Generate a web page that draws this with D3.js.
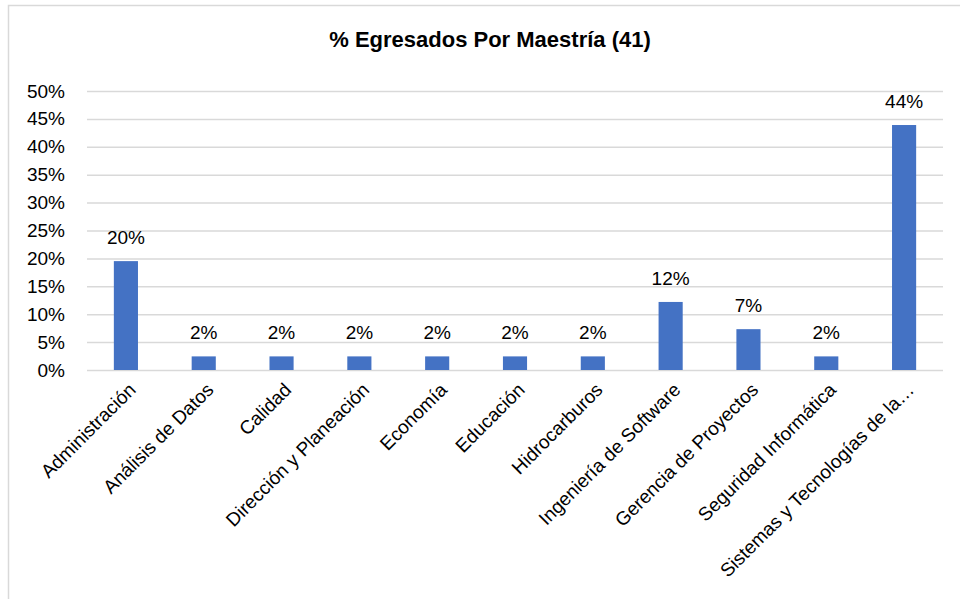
<!DOCTYPE html>
<html><head><meta charset="utf-8">
<script src="https://cdn.jsdelivr.net/npm/d3@7"></script>
<style>body{margin:0;background:#fff}svg{display:block}text{font-family:"Liberation Sans",Arial,sans-serif;fill:#000}</style>
</head><body><svg id="c" width="960" height="599"></svg>
<script>
const categories = ["Administración","Análisis de Datos","Calidad","Dirección y Planeación","Economía","Educación","Hidrocarburos","Ingeniería de Software","Gerencia de Proyectos","Seguridad Informática","Sistemas y Tecnologías de la…"];
const counts = [8,1,1,1,1,1,1,5,3,1,18];
const total = 41;
const values = counts.map(c => c / total * 100);
const yTicks = [0,5,10,15,20,25,30,35,40,45,50];
const title = "% Egresados Por Maestría (41)";

const svg = d3.select("#c");
svg.append("rect").attr("x",8.5).attr("y",5.5).attr("width",960).attr("height",600)
  .attr("fill","#fff").attr("stroke","#d9d9d9").attr("stroke-width",1.5);

const m = {l:87, r:943, t:91, b:370};
const x = d3.scaleBand().domain(categories).range([m.l, m.r]).paddingInner(0.69).paddingOuter(0.345);
const y = d3.scaleLinear().domain([0,50]).range([m.b, m.t]);

svg.append("text").attr("x",490).attr("y",47).attr("text-anchor","middle")
  .attr("font-size",22).attr("font-weight","bold").text(title);

const ya = svg.append("g").attr("transform",`translate(${m.l},0)`)
  .call(d3.axisLeft(y).tickValues(yTicks).tickSize(-(m.r-m.l)).tickPadding(22).tickFormat(d => d + "%"));
ya.select(".domain").remove();
ya.selectAll(".tick line").attr("stroke","#d9d9d9").attr("stroke-width",1.5);
ya.selectAll(".tick text").attr("font-size",19).attr("fill","#000");

svg.append("g").selectAll("rect").data(values).join("rect")
  .attr("x",(d,i)=>x(categories[i])).attr("width",x.bandwidth())
  .attr("y",d=>y(d)).attr("height",d=>y(0)-y(d)).attr("fill","#4472c4");

svg.append("g").selectAll("text").data(values).join("text")
  .attr("x",(d,i)=>x(categories[i])+x.bandwidth()/2).attr("y",d=>y(d)-17)
  .attr("text-anchor","middle").attr("font-size",19).text(d=>Math.round(d)+"%");

const xa = svg.append("g").attr("transform",`translate(0,${m.b})`)
  .call(d3.axisBottom(x).tickSize(0).tickPadding(0));
xa.select(".domain").remove();
xa.selectAll(".tick text").attr("font-size",19).attr("text-anchor","end")
  .attr("dy",0).attr("transform","translate(11,21) rotate(-45)");
</script></body></html>
